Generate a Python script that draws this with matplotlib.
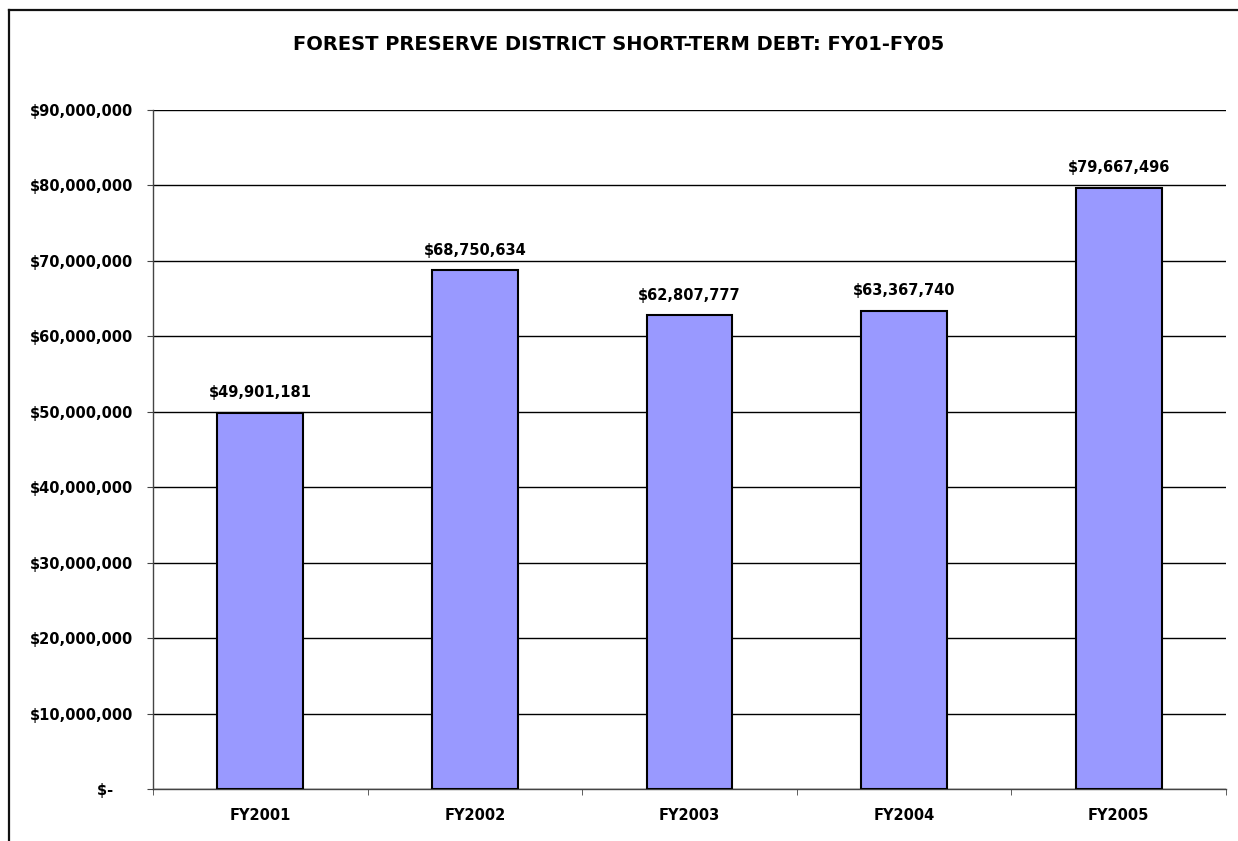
import matplotlib
matplotlib.use("Agg")
import matplotlib.pyplot as plt
from matplotlib.lines import Line2D
from matplotlib.ticker import FuncFormatter, MultipleLocator, FixedLocator

categories = ["FY2001", "FY2002", "FY2003", "FY2004", "FY2005"]
debt = [49901181, 68750634, 62807777, 63367740, 79667496]
title = "FOREST PRESERVE DISTRICT SHORT-TERM DEBT: FY01-FY05"

W, H = 1238, 841
fig = plt.figure(figsize=(W / 100, H / 100), dpi=100)
plt.rcParams['font.family'] = ['DejaVu Sans']
ax = fig.add_axes([153 / W, 1 - 789 / H, (1226 - 153) / W, (789 - 110) / H])

x = list(range(len(categories)))
ax.bar(x, debt, width=0.4, color="#9999FF", edgecolor="black", linewidth=1.5, zorder=3)
ax.set_xlim(-0.5, len(categories) - 0.5)
ax.set_ylim(0, 90000000)

ax.yaxis.set_major_locator(MultipleLocator(10000000))
def fmt(v, pos):
    if v == 0:
        return "$-\u2007\u2007"
    return "${:,.0f}".format(v)
ax.yaxis.set_major_formatter(FuncFormatter(fmt))
ax.grid(axis="y", color="black", linewidth=1.0, zorder=0)
ax.set_axisbelow(True)

ax.set_xticks(x)
ax.set_xticklabels(categories)
ax.xaxis.set_minor_locator(FixedLocator([i - 0.5 for i in range(len(categories) + 1)]))
ax.tick_params(axis="x", which="major", length=0, pad=14, labelsize=10.5)
ax.tick_params(axis="x", which="minor", length=4, direction="out", color="#444444")
ax.tick_params(axis="y", length=4.3, direction="out", pad=10, labelsize=10.5, color="#444444")
for lab in ax.get_xticklabels() + ax.get_yticklabels():
    lab.set_fontweight("bold")

for s in ["top", "right"]:
    ax.spines[s].set_visible(False)
for s in ["left", "bottom"]:
    ax.spines[s].set_color("#444444")
    ax.spines[s].set_linewidth(1.0)

for xi, v in zip(x, debt):
    ax.annotate("${:,.0f}".format(v), (xi, v), xytext=(0, 9), textcoords="offset points",
                ha="center", va="bottom", fontsize=10.5, fontweight="bold")

fig.text(0.5, 1 - 45 / H, title, ha="center", va="center", fontsize=14, fontweight="bold")

fig.add_artist(Line2D([9 / W, 1], [1 - 10 / H, 1 - 10 / H], transform=fig.transFigure, color="#111111", linewidth=1.6))
fig.add_artist(Line2D([9 / W, 9 / W], [0, 1 - 10 / H], transform=fig.transFigure, color="#111111", linewidth=1.6))

fig.savefig("out.png", dpi=100)
